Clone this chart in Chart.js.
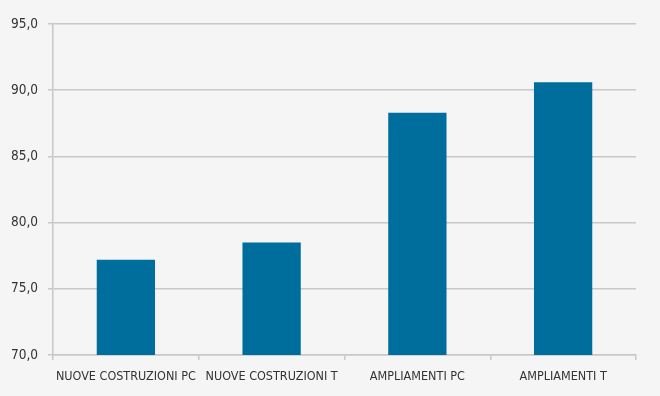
<!DOCTYPE html>
<html lang="it">
<head>
<meta charset="UTF-8">
<script src="https://cdn.jsdelivr.net/npm/chart.js"></script>
<style>
    html, body { margin: 0; padding: 0; background: #f5f5f5; }
    .grafico { width: 660px; height: 396px; }
</style>
</head>
<body>
<div class="grafico"><canvas id="grafico_1"></canvas></div>
<script>
    const categorie = ['NUOVE COSTRUZIONI PC', 'NUOVE COSTRUZIONI T', 'AMPLIAMENTI PC', 'AMPLIAMENTI T'];
    const valori = [77.2, 78.5, 88.3, 90.6];
    const yMin = 70;
    const yMax = 95;
    const yPasso = 5;

    const font = "'DejaVu Sans Condensed', 'Liberation Sans Narrow', sans-serif";

    new Chart(document.getElementById('grafico_1'), {
        type: 'bar',
        data: {
            labels: categorie,
            datasets: [{
                data: valori,
                backgroundColor: '#006e9c',
                borderWidth: 0,
                categoryPercentage: 0.4,
                barPercentage: 1
            }]
        },
        options: {
            responsive: true,
            maintainAspectRatio: false,
            animation: false,
            layout: { padding: { top: 24, right: 24, left: 0, bottom: 0 } },
            plugins: { legend: { display: false }, tooltip: { enabled: false } },
            scales: {
                x: {
                    afterFit: s => { s.height = 41; },
                    grid: { drawOnChartArea: false, color: '#c8c8c8', lineWidth: 1.5, tickLength: 5 },
                    border: { color: '#c8c8c8', width: 1.5 },
                    ticks: { color: '#333', font: { family: font, size: 12.5 }, padding: 9, maxRotation: 0, autoSkip: false }
                },
                y: {
                    min: yMin,
                    max: yMax,
                    afterFit: s => { s.width = 53; },
                    grid: { color: '#c8c8c8', lineWidth: 1.5, tickLength: 5 },
                    border: { color: '#c8c8c8', width: 1.5 },
                    ticks: {
                        stepSize: yPasso,
                        color: '#333',
                        padding: 10,
                        font: { family: font, size: 13.5 },
                        callback: v => v.toFixed(1).replace('.', ',')
                    }
                }
            }
        }
    });
</script>
</body>
</html>
